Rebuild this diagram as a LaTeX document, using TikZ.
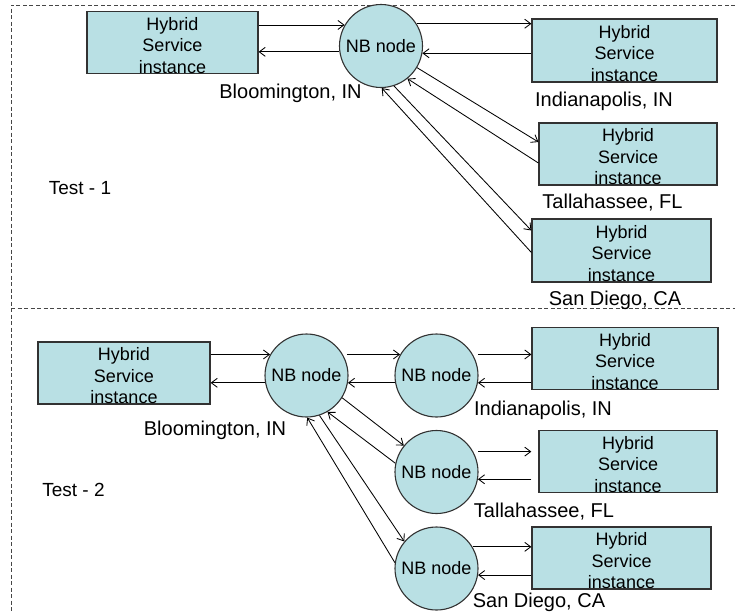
\documentclass[tikz,border=0pt]{standalone}
\usepackage{fontspec}
\setmainfont{Liberation Sans}
\usetikzlibrary{arrows.meta,calc}
\definecolor{boxfill}{RGB}{185,224,228}
\definecolor{edgegray}{RGB}{50,50,50}
\definecolor{framegray}{RGB}{70,70,70}
\newcommand{\hsitext}{\rule{0pt}{19pt}Hybrid\\Service\\instance}
\tikzset{
  hbox/.style={draw=edgegray, line width=1.2pt, fill=boxfill, rectangle, inner sep=0pt,
    align=center, font=\fontsize{18}{21.5}\selectfont},
  nbnode/.style={draw=edgegray, line width=1.1pt, fill=boxfill, circle, inner sep=0pt,
    minimum size=83pt, font=\fontsize{18}{21.5}\selectfont},
  place/.style={font=\fontsize{20}{24}\selectfont, anchor=base, inner sep=0pt},
  testlbl/.style={font=\fontsize{19}{23}\selectfont, anchor=base, inner sep=0pt},
  arr/.style={line width=0.85pt, -{Straight Barb[length=6pt,width=9pt,line width=0.85pt]}},
  frame/.style={draw=framegray, line width=1pt, dash pattern=on 4pt off 2.5pt}
}
\begin{document}
\begin{tikzpicture}[x=1pt,y=-1pt]
\useasboundingbox (0,0) rectangle (735,613);
% frame
\draw[frame] (735,5) -- (11,5) -- (11,613);
\draw[frame] (11,308) -- (735,308);

% ---------- Test 1 ----------
\node[hbox, minimum width=171pt, minimum height=61pt] (b0) at (172.5,42.5) {\hsitext};
\node[nbnode] (c1) at (381,46) {NB node};
\node[hbox, minimum width=185pt, minimum height=63pt] (b1) at (624.5,50.5) {\hsitext};
\node[hbox, minimum width=178pt, minimum height=62pt] (b2) at (628,154) {\hsitext};
\node[hbox, minimum width=179pt, minimum height=63pt] (b3) at (621.5,250.5) {\hsitext};

\node[place] (l0) at (290.5,98.5) {Bloomington, IN};
\node[place] (l1) at (604,106) {Indianapolis, IN};
\node[place] (l2) at (612.5,208.5) {Tallahassee, FL};
\node[place] (l3) at (615,305) {San Diego, CA};
\node[testlbl] (t1) at (80,194) {Test - 1};

\draw[arr] (b0.east |- c1.150) -- (c1.150);
\draw[arr] (c1.188) -- (b0.east |- c1.188);
\draw[arr] (c1.32) -- (b1.west |- c1.32);
\draw[arr] (b1.west |- c1.-10) -- (c1.-10);
\draw[arr] (c1.-31) -- ([yshift=12pt]b2.west);
\draw[arr] ([yshift=-9pt]b2.west) -- (c1.-51);
\draw[arr] (c1.-72) -- ([yshift=20pt]b3.west);
\draw[arr] ([yshift=-2pt]b3.west) -- (c1.-89);

% ---------- Test 2 ----------
\node[hbox, minimum width=172pt, minimum height=62pt] (b4) at (124,373) {\hsitext};
\node[nbnode] (A) at (306.5,375.5) {NB node};
\node[nbnode] (B) at (436.5,375.5) {NB node};
\node[nbnode] (C) at (436.5,472) {NB node};
\node[nbnode] (D) at (436.5,568.5) {NB node};
\node[hbox, minimum width=186pt, minimum height=61pt] (b5) at (625,358.5) {\hsitext};
\node[hbox, minimum width=178pt, minimum height=61pt] (b6) at (628,461.5) {\hsitext};
\node[hbox, minimum width=179pt, minimum height=62pt] (b7) at (621.5,558) {\hsitext};

\node[place] (l4) at (215,435) {Bloomington, IN};
\node[place] (l5) at (543,415) {Indianapolis, IN};
\node[place] (l6) at (544,517) {Tallahassee, FL};
\node[place] (l7) at (539,607) {San Diego, CA};
\node[testlbl] (t2) at (73.5,496) {Test - 2};

\draw[arr] (b4.east |- A.150) -- (A.150);
\draw[arr] (A.190) -- (b4.east |- A.190);
\draw[arr, shorten <=4pt] (A.30) -- (B.150);
\draw[arr] (B.190) -- (A.-10);
\draw[arr, shorten <=5pt] (B.30) -- (b5.west |- B.30);
\draw[arr] (b5.west |- B.-10) -- (B.-10);
\draw[arr, shorten <=5pt, shorten >=7pt] (C.29) -- (b6.west |- C.29);
\draw[arr, shorten <=7pt] (b6.west |- C.-10) -- (C.-10);
\draw[arr] (D.31) -- (b7.west |- D.31);
\draw[arr] (b7.west |- D.-9) -- (D.-9);
\draw[arr] (A.-32) -- (C.141);
\draw[arr] (C.168) -- (A.-60);
\draw[arr] (A.-72) -- (D.140);
\draw[arr] (D.172) -- (A.-89);
\end{tikzpicture}
\end{document}
